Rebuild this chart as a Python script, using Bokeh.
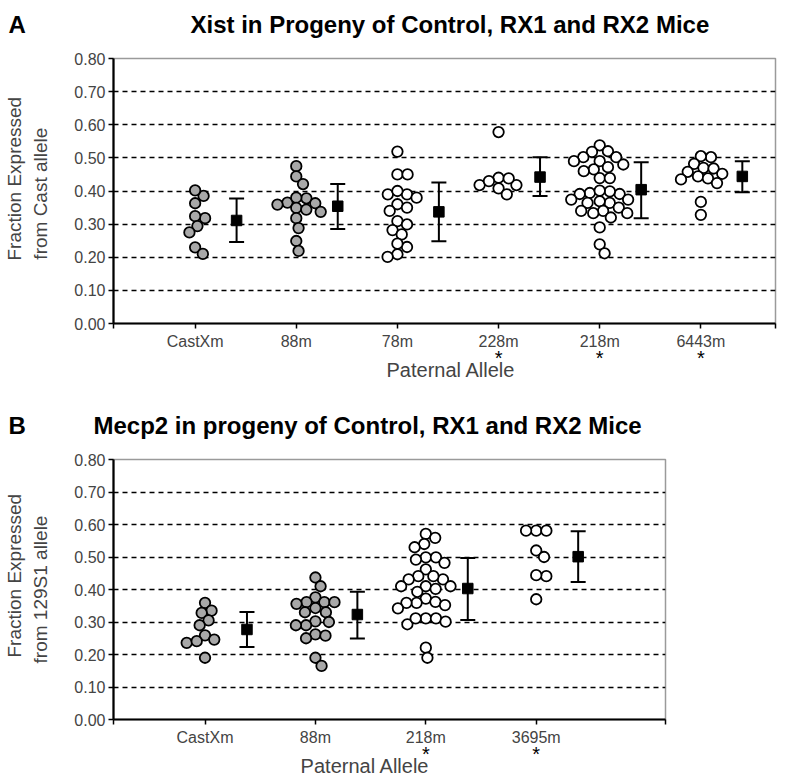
import math
from bokeh.plotting import figure
from bokeh.models import (FixedTicker, PrintfTickFormatter, Range1d, Title,
                          Whisker, ColumnDataSource, TeeHead, LinearAxis)
from bokeh.core.properties import value
from bokeh.embed import file_html
from bokeh.resources import INLINE

# ---------------- Panel A data ----------------
A_groups = ["CastXm", "88m", "78m", "228m", "218m", "6443m"]
A_starred = [False, False, False, True, True, True]
A_filled = [True, True, False, False, False, False]
A_castxm = [0.385, 0.402, 0.363, 0.318, 0.324, 0.294, 0.275, 0.230, 0.210]
A_88m = [0.475, 0.444, 0.421, 0.378, 0.365, 0.380, 0.349, 0.344, 0.363, 0.359,
         0.337, 0.318, 0.288, 0.249, 0.219]
A_78m = [0.519, 0.450, 0.450, 0.390, 0.390, 0.400, 0.380, 0.360, 0.350, 0.340,
         0.309, 0.299, 0.282, 0.269, 0.231, 0.241, 0.209, 0.201]
A_228m = [0.578, 0.418, 0.440, 0.418, 0.438, 0.430, 0.408, 0.390]
A_218m = [0.538, 0.518, 0.520, 0.502, 0.502, 0.490, 0.490, 0.472, 0.480, 0.465,
          0.460, 0.439, 0.439, 0.394, 0.391, 0.399, 0.391, 0.401, 0.364, 0.364,
          0.374, 0.369, 0.374, 0.340, 0.333, 0.350, 0.333, 0.340, 0.320, 0.290,
          0.239, 0.212]
A_6443m = [0.502, 0.505, 0.482, 0.470, 0.468, 0.458, 0.452, 0.444, 0.438, 0.435,
           0.424, 0.367, 0.328]
A_values = [A_castxm, A_88m, A_78m, A_228m, A_218m, A_6443m]
A_mean = [0.311, 0.354, 0.337, 0.442, 0.404, 0.444]
A_upper = [0.377, 0.421, 0.426, 0.502, 0.487, 0.490]
A_lower = [0.246, 0.285, 0.248, 0.385, 0.318, 0.396]
A_title = "Xist in Progeny of Control,  RX1 and RX2 Mice"
A_ylabel = ["Fraction Expressed", "from Cast  allele"]

# ---------------- Panel B data ----------------
B_groups = ["CastXm", "88m", "218m", "3695m"]
B_starred = [False, False, True, True]
B_filled = [True, True, False, False]
B_castxm = [0.359, 0.335, 0.328, 0.305, 0.290, 0.259, 0.236, 0.246, 0.241, 0.190]
B_88m = [0.437, 0.410, 0.376, 0.361, 0.361, 0.361, 0.356, 0.343, 0.330, 0.330,
         0.302, 0.300, 0.290, 0.290, 0.262, 0.258, 0.250, 0.190, 0.165]
B_218m = [0.571, 0.559, 0.540, 0.530, 0.499, 0.499, 0.492, 0.482, 0.462, 0.431,
          0.441, 0.441, 0.431, 0.410, 0.410, 0.410, 0.402, 0.393, 0.372, 0.362,
          0.359, 0.359, 0.352, 0.342, 0.311, 0.293, 0.311, 0.311, 0.301, 0.221,
          0.190]
B_3695m = [0.581, 0.581, 0.581, 0.520, 0.500, 0.441, 0.444, 0.370]
B_values = [B_castxm, B_88m, B_218m, B_3695m]
B_mean = [0.277, 0.323, 0.403, 0.501]
B_upper = [0.331, 0.393, 0.497, 0.579]
B_lower = [0.223, 0.249, 0.306, 0.423]
B_title = "Mecp2  in progeny of Control,  RX1 and RX2 Mice"
B_ylabel = ["Fraction Expressed", "from 129S1 allele"]

y_ticks = [0.0, 0.1, 0.2, 0.3, 0.4, 0.5, 0.6, 0.7, 0.8]
grid_ticks = [0.1, 0.2, 0.3, 0.4, 0.5, 0.6, 0.7]
x_title = "Paternal Allele"

FONT = "Liberation Sans"
TXT = "#444444"
W = 801


def swarm(vals, ppx, ppy, dmin):
    """Beeswarm offsets (data units along x) so circles do not overlap."""
    order = sorted(range(len(vals)), key=lambda i: -vals[i])
    placed = []
    offs = [0.0] * len(vals)
    for i in order:
        y = vals[i] * ppy
        cands = [0.0]
        for (px, py) in placed:
            dy = abs(py - y)
            if dy < dmin:
                dx = math.sqrt(dmin * dmin - dy * dy)
                cands += [px + dx, px - dx]
        cands.sort(key=abs)
        chosen = cands[-1]
        for c in cands:
            if all((c - px) ** 2 + (y - py) ** 2 >= dmin * dmin - 1e-6
                   for px, py in placed):
                chosen = c
                break
        placed.append((chosen, y))
        offs[i] = chosen / ppx
    return offs


def header(height, letter, title, letter_x, title_x, base_y):
    h = figure(width=W, height=height, x_range=Range1d(0, W),
               y_range=Range1d(height, 0), x_axis_type=None, y_axis_type=None,
               output_backend="svg", toolbar_location=None, min_border=0)
    h.outline_line_color = None
    h.title.visible = False
    h.grid.visible = False
    h.text(x=[letter_x], y=[base_y], text=[letter],
           text_font=value(FONT), text_font_size="24px",
           text_font_style="bold", text_align="left",
           text_baseline="alphabetic", text_color="black")
    h.text(x=[title_x], y=[base_y], text=[title],
           text_font=value(FONT), text_font_size="24px",
           text_font_style="bold", text_align="left",
           text_baseline="alphabetic", text_color="black")
    return h


def make_panel(ylab, groups, starred, filled, values, mean, upper, lower,
               height, mb_right, mb_top, mb_bottom, x0, x1, err_dx, xt_pos,
               ylab_offset):
    mb_left = 110
    p = figure(width=W, height=height, x_range=Range1d(x0, x1),
               y_range=Range1d(0, 0.8), output_backend="svg",
               toolbar_location=None, min_border_left=mb_left,
               min_border_right=mb_right, min_border_top=mb_top,
               min_border_bottom=mb_bottom)
    p.title.visible = False
    p.background_fill_color = "white"
    p.border_fill_color = "white"
    p.outline_line_color = "#9a9a9a"
    p.outline_line_width = 1.5

    frame_w = W - mb_left - mb_right
    frame_h = height - mb_top - mb_bottom
    ppx = frame_w / (x1 - x0)
    ppy = frame_h / 0.8

    # grid
    p.xgrid.visible = False
    p.ygrid.ticker = FixedTicker(ticks=grid_ticks)
    p.ygrid.grid_line_color = "black"
    p.ygrid.grid_line_dash = "5 4"
    p.ygrid.grid_line_width = 1.6

    # axes (tick marks at each category and at both ends of the axis)
    xs = list(range(1, len(groups) + 1))
    overrides = {x: g for x, g in zip(xs, groups)}
    overrides[x0] = ""
    overrides[x1] = ""
    p.xaxis.ticker = FixedTicker(ticks=[x0] + xs + [x1])
    p.xaxis.major_label_overrides = overrides
    p.yaxis.ticker = FixedTicker(ticks=y_ticks)
    p.yaxis.formatter = PrintfTickFormatter(format="%.2f")
    for ax in (p.xaxis, p.yaxis):
        ax.axis_line_width = 2.2
        ax.axis_line_color = "black"
        ax.major_tick_line_width = 1.5
        ax.major_tick_line_color = "black"
        ax.major_tick_out = 5
        ax.major_tick_in = 0
        ax.minor_tick_line_color = None
        ax.major_label_text_font = FONT
        ax.major_label_text_color = TXT
        ax.major_label_standoff = 3
    p.xaxis.major_label_standoff = 4
    p.xaxis.major_label_text_font_size = "16px"
    p.yaxis.major_label_text_font_size = "16px"

    # inner y title line as the axis label, outer line as a side title
    p.yaxis.axis_label = ylab[1]
    p.yaxis.axis_label_standoff = 20
    p.yaxis.axis_label_text_font = FONT
    p.yaxis.axis_label_text_font_size = "19px"
    p.yaxis.axis_label_text_font_style = "normal"
    p.yaxis.axis_label_text_color = TXT
    p.add_layout(Title(text=ylab[0], align="left", offset=ylab_offset,
                       vertical_align="middle", standoff=4,
                       text_font=FONT, text_font_size="19px",
                       text_font_style="normal", text_color=TXT), "left")

    # star axis (significance marks)
    star_axis = LinearAxis(
        ticker=FixedTicker(ticks=xs),
        major_label_overrides={x: ("*" if s else "") for x, s in zip(xs, starred)},
        axis_line_color=None, major_tick_line_color=None,
        minor_tick_line_color=None, major_tick_out=0, major_tick_in=0,
        major_label_standoff=-6, major_label_text_font=FONT,
        major_label_text_font_size="20px", major_label_text_color="black")
    p.add_layout(star_axis, "below")

    # x title, placed as a single label
    title_axis = LinearAxis(
        ticker=FixedTicker(ticks=[xt_pos]),
        major_label_overrides={xt_pos: x_title},
        axis_line_color=None, major_tick_line_color=None,
        minor_tick_line_color=None, major_tick_out=0, major_tick_in=0,
        major_label_standoff=-13, major_label_text_font=FONT,
        major_label_text_font_size="20px", major_label_text_color=TXT)
    p.add_layout(title_axis, "below")

    # points
    for gi, vals in enumerate(values):
        offs = swarm(vals, ppx, ppy, 10.2)
        src = ColumnDataSource(dict(x=[gi + 1 + o for o in offs], y=vals))
        p.scatter("x", "y", source=src, marker="circle", size=10.5,
                  fill_color="#a8a8a8" if filled[gi] else "white",
                  line_color="black", line_width=1.8)

    # means with error bars
    ex = [x + err_dx for x in xs]
    esrc = ColumnDataSource(dict(x=ex, m=mean, up=upper, lo=lower))
    wh = Whisker(source=esrc, base="x", upper="up", lower="lo",
                 dimension="height", line_color="black", line_width=2)
    wh.upper_head = TeeHead(size=15, line_color="black", line_width=2)
    wh.lower_head = TeeHead(size=15, line_color="black", line_width=2)
    p.add_layout(wh)
    p.scatter("x", "m", source=esrc, marker="square", size=10.5,
              fill_color="black", line_color="black")
    return p


hA = header(40, "A", A_title, 8, 190, 24)
pA = make_panel(A_ylabel, A_groups, A_starred, A_filled, A_values, A_mean,
                A_upper, A_lower, 345, 26, 18, 62, 0.193, 6.738, 0.41, 3.53, 63)
hB = header(55, "B", B_title, 8, 93, 40)
pB = make_panel(B_ylabel, B_groups, B_starred, B_filled, B_values, B_mean,
                B_upper, B_lower, 340, 136, 19, 61, 0.171, 5.171, 0.38, 2.45, 62)

open("out.html", "w").write(file_html([hA, pA, hB, pB], INLINE))
